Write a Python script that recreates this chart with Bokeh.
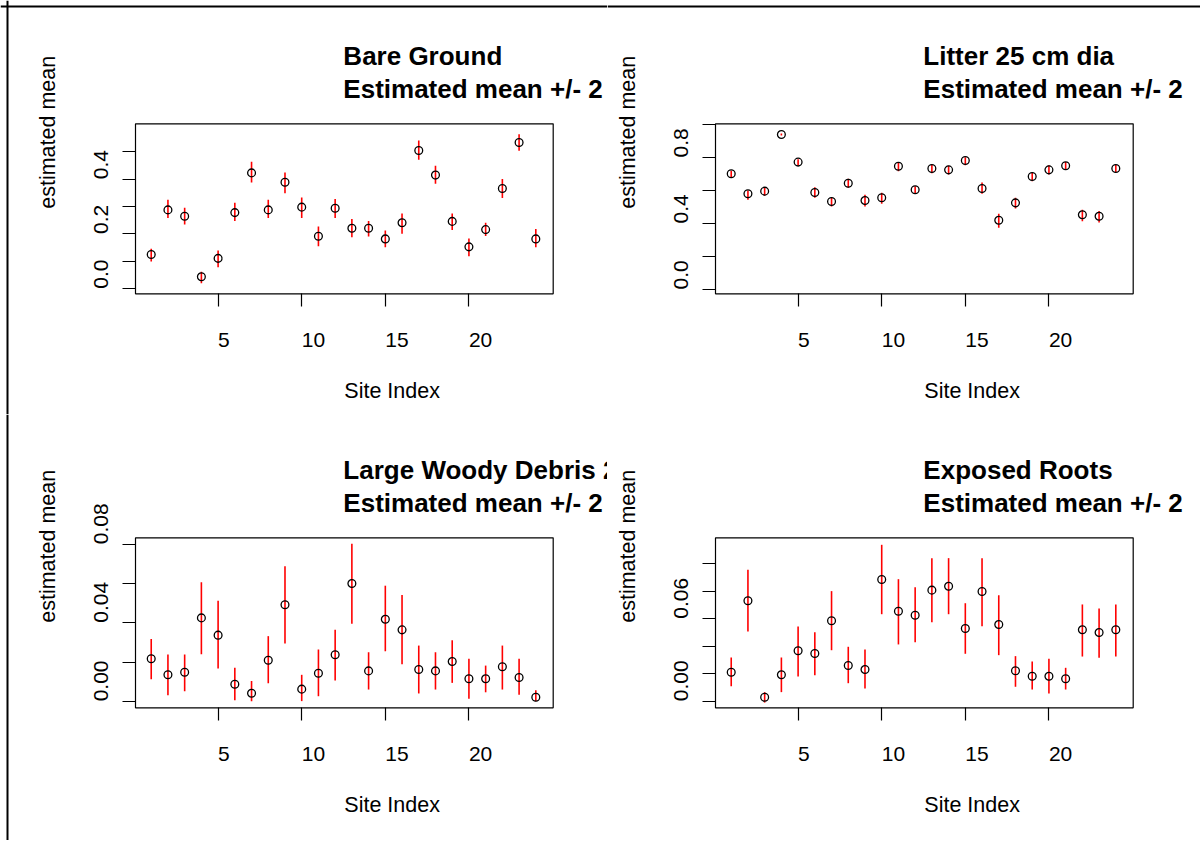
from bokeh.plotting import figure
from bokeh.models import Label, FixedTicker, Range1d, BoxAnnotation, Span
from bokeh.layouts import row, column
from bokeh.embed import file_html
from bokeh.resources import INLINE

# ---------------- data ----------------
site = list(range(1, 25))
x_ticks = [5, 10, 15, 20]

bare_mean = [0.125, 0.288, 0.265, 0.044, 0.111, 0.278, 0.423, 0.288, 0.389, 0.298, 0.192, 0.294,
             0.221, 0.221, 0.182, 0.241, 0.505, 0.415, 0.246, 0.153, 0.216, 0.366, 0.534, 0.182]
bare_lo = [0.100, 0.258, 0.235, 0.020, 0.079, 0.247, 0.388, 0.258, 0.349, 0.258, 0.155, 0.258,
           0.188, 0.191, 0.152, 0.201, 0.471, 0.383, 0.215, 0.119, 0.193, 0.331, 0.504, 0.152]
bare_hi = [0.146, 0.325, 0.296, 0.062, 0.140, 0.314, 0.464, 0.325, 0.424, 0.333, 0.227, 0.328,
           0.255, 0.247, 0.213, 0.275, 0.541, 0.449, 0.275, 0.184, 0.241, 0.401, 0.564, 0.218]

litter_mean = [0.701, 0.580, 0.596, 0.939, 0.772, 0.588, 0.533, 0.644, 0.539, 0.556, 0.747, 0.604,
               0.733, 0.725, 0.782, 0.612, 0.420, 0.525, 0.685, 0.725, 0.750, 0.453, 0.444, 0.733]
litter_lo = [0.681, 0.544, 0.568, 0.933, 0.750, 0.556, 0.503, 0.616, 0.503, 0.519, 0.717, 0.580,
             0.705, 0.697, 0.753, 0.580, 0.374, 0.491, 0.656, 0.697, 0.725, 0.414, 0.406, 0.710]
litter_hi = [0.719, 0.600, 0.616, 0.945, 0.790, 0.620, 0.559, 0.671, 0.574, 0.586, 0.772, 0.626,
             0.758, 0.750, 0.802, 0.648, 0.459, 0.556, 0.711, 0.753, 0.772, 0.483, 0.475, 0.755]

lwd_mean = [0.0217, 0.0135, 0.0148, 0.0425, 0.0337, 0.0087, 0.0041, 0.0209, 0.0492, 0.0062, 0.0143, 0.0237,
            0.0600, 0.0155, 0.0418, 0.0364, 0.0162, 0.0155, 0.0203, 0.0115, 0.0115, 0.0176, 0.0121, 0.0021]
lwd_lo = [0.0113, 0.0031, 0.0051, 0.0240, 0.0167, 0.0006, 0.0001, 0.0092, 0.0295, 0.0001, 0.0026, 0.0106,
          0.0395, 0.0060, 0.0255, 0.0189, 0.0040, 0.0060, 0.0094, 0.0013, 0.0046, 0.0060, 0.0033, 0.0001]
lwd_hi = [0.0318, 0.0238, 0.0238, 0.0607, 0.0512, 0.0171, 0.0104, 0.0332, 0.0688, 0.0135, 0.0264, 0.0364,
          0.0803, 0.0250, 0.0589, 0.0541, 0.0284, 0.0250, 0.0311, 0.0217, 0.0182, 0.0284, 0.0217, 0.0057]

roots_mean = [0.0211, 0.0731, 0.0029, 0.0192, 0.0367, 0.0347, 0.0585, 0.0260, 0.0231, 0.0886, 0.0655, 0.0626,
              0.0808, 0.0837, 0.0529, 0.0798, 0.0558, 0.0221, 0.0182, 0.0182, 0.0163, 0.0520, 0.0500, 0.0520]
roots_lo = [0.0109, 0.0507, -0.0010, 0.0066, 0.0180, 0.0189, 0.0371, 0.0131, 0.0092, 0.0633, 0.0413, 0.0429,
            0.0575, 0.0633, 0.0345, 0.0546, 0.0335, 0.0105, 0.0085, 0.0056, 0.0085, 0.0325, 0.0316, 0.0325]
roots_hi = [0.0318, 0.0956, 0.0066, 0.0318, 0.0544, 0.0502, 0.0801, 0.0396, 0.0376, 0.1138, 0.0888, 0.0830,
            0.1041, 0.1041, 0.0713, 0.1041, 0.0771, 0.0328, 0.0289, 0.0309, 0.0243, 0.0704, 0.0675, 0.0704]

titles = ["Bare Ground", "Litter 25 cm dia", "Large Woody Debris 25 cm dia", "Exposed Roots"]
subtitle = "Estimated mean +/- 2"
y_title = "estimated mean"
x_title = "Site Index"

bare_ticks = [0.0, 0.1, 0.2, 0.3, 0.4, 0.5]
bare_labels = {0.0: "0.0", 0.2: "0.2", 0.4: "0.4"}
litter_ticks = [0.0, 0.2, 0.4, 0.6, 0.8, 1.0]
litter_labels = {0.0: "0.0", 0.4: "0.4", 0.8: "0.8"}
lwd_ticks = [0.0, 0.02, 0.04, 0.06, 0.08]
lwd_labels = {0.0: "0.00", 0.04: "0.04", 0.08: "0.08"}
roots_ticks = [0.0, 0.02, 0.04, 0.06, 0.08, 0.10]
roots_labels = {0.0: "0.00", 0.06: "0.06"}

xlim = (0.06, 25.04)
bare_ylim = (-0.0183, 0.6022)
litter_ylim = (-0.0261, 1.0042)
lwd_ylim = (-0.0033, 0.0833)
roots_ylim = (-0.0048, 0.1189)

# ---------------- layout / style ----------------
FONT = "Liberation Sans"
AX_SIZE = "21px"
LAB_SIZE = "21.5px"
TITLE_SIZE = "26px"
BOX_TOP, BOX_BOTTOM = 123.3, 293.3      # px from canvas top (both rows)
LEFT_BOX = (135.0, 552.7)               # px from canvas left, left column
RIGHT_BOX = (108.0, 525.7)              # right column
COL_W = (607, 593)
ROW_H = (414, 426)
FRAME_TOP_Y = 6.0                       # outer picture frame, px from canvas top
FRAME_LEFT_X = 7.0                      # px from canvas left

# text offsets from the box (px)
XTICK_DY = -53.4 + 7.3
XLAB_DY = -105 + 7.5
YTICK_DX = -27 - 7.3
YLAB_DX = -80 - 7.5
TITLE1_DY = 58.5 + 9.3
TITLE2_DY = 26 + 9.3


def panel(mean, lo, hi, ylim, yticks, ylabels, title, w, h, box_x, border_top, border_left):
    bx0, bx1 = box_x
    sx = (bx1 - bx0) / (xlim[1] - xlim[0])
    sy = (BOX_BOTTOM - BOX_TOP) / (ylim[1] - ylim[0])
    xr = Range1d(xlim[0] - bx0 / sx, xlim[0] + (w - bx0) / sx)
    yr = Range1d(ylim[1] - (h - BOX_TOP) / sy, ylim[1] + BOX_TOP / sy)

    p = figure(width=w, height=h, x_range=xr, y_range=yr, title=None,
               output_backend="svg", toolbar_location=None,
               min_border_left=0, min_border_right=0, min_border_top=0, min_border_bottom=0)
    p.xgrid.visible = False
    p.ygrid.visible = False
    p.outline_line_color = None
    p.background_fill_color = "white"
    p.border_fill_color = "white"

    p.xaxis.ticker = FixedTicker(ticks=x_ticks)
    p.yaxis.ticker = FixedTicker(ticks=yticks)
    p.xaxis.fixed_location = ylim[0]
    p.yaxis.fixed_location = xlim[0]
    for ax in (p.xaxis[0], p.yaxis[0]):
        ax.axis_line_color = None
        ax.major_tick_out = 13
        ax.major_tick_in = 0
        ax.minor_tick_out = 0
        ax.minor_tick_in = 0
        ax.major_tick_line_color = "black"
        ax.major_tick_line_width = 1.2
        ax.minor_tick_line_color = None
        ax.major_label_text_color = None

    p.add_layout(BoxAnnotation(left=xlim[0], right=xlim[1], bottom=ylim[0], top=ylim[1],
                               fill_color=None, fill_alpha=0, line_color="black",
                               line_alpha=1.0, line_width=1.2))

    p.segment(x0=site, y0=lo, x1=site, y1=hi, line_color="#FF0000", line_width=1.6)
    p.scatter(site, mean, marker="circle", size=7.8, fill_color=None,
              line_color="black", line_width=1.3)

    xm = (xlim[0] + xlim[1]) / 2.0
    ym = (ylim[0] + ylim[1]) / 2.0

    # tick labels, drawn starting at the tick as in the reference
    for t in x_ticks:
        p.add_layout(Label(x=t, y=ylim[0], y_offset=XTICK_DY, text=str(t), text_align="left",
                           text_baseline="alphabetic", text_font=FONT, text_font_size=AX_SIZE,
                           text_color="black"))
    for t, s in ylabels.items():
        p.add_layout(Label(x=xlim[0], y=t, x_offset=YTICK_DX, text=s, angle=90, angle_units="deg",
                           text_align="left", text_baseline="alphabetic", text_font=FONT,
                           text_font_size=AX_SIZE, text_color="black"))
    # axis titles
    p.add_layout(Label(x=xm, y=ylim[0], y_offset=XLAB_DY, text=x_title, text_align="left",
                       text_baseline="alphabetic", text_font=FONT, text_font_size=LAB_SIZE,
                       text_color="black"))
    p.add_layout(Label(x=xlim[0], y=ym, x_offset=YLAB_DX, text=y_title, angle=90, angle_units="deg",
                       text_align="left", text_baseline="alphabetic", text_font=FONT,
                       text_font_size=LAB_SIZE, text_color="black"))
    # two-line bold title
    p.add_layout(Label(x=xm, y=ylim[1], y_offset=TITLE1_DY, x_offset=-1.0, text=title,
                       text_align="left", text_baseline="alphabetic", text_font=FONT,
                       text_font_size=TITLE_SIZE, text_font_style="bold", text_color="black"))
    p.add_layout(Label(x=xm, y=ylim[1], y_offset=TITLE2_DY, x_offset=-1.0, text=subtitle,
                       text_align="left", text_baseline="alphabetic", text_font=FONT,
                       text_font_size=TITLE_SIZE, text_font_style="bold", text_color="black"))

    # outer frame of the whole picture (top and left edges only)
    if border_top:
        p.add_layout(Span(location=yr.end - FRAME_TOP_Y / sy, dimension="width",
                          line_color="black", line_width=2))
    if border_left:
        p.add_layout(Span(location=xr.start + FRAME_LEFT_X / sx, dimension="height",
                          line_color="black", line_width=2))
    return p


p1 = panel(bare_mean, bare_lo, bare_hi, bare_ylim, bare_ticks, bare_labels, titles[0],
           COL_W[0], ROW_H[0], LEFT_BOX, True, True)
p2 = panel(litter_mean, litter_lo, litter_hi, litter_ylim, litter_ticks, litter_labels, titles[1],
           COL_W[1], ROW_H[0], RIGHT_BOX, True, False)
p3 = panel(lwd_mean, lwd_lo, lwd_hi, lwd_ylim, lwd_ticks, lwd_labels, titles[2],
           COL_W[0], ROW_H[1], LEFT_BOX, False, True)
p4 = panel(roots_mean, roots_lo, roots_hi, roots_ylim, roots_ticks, roots_labels, titles[3],
           COL_W[1], ROW_H[1], RIGHT_BOX, False, False)

layout = column(row(p1, p2), row(p3, p4))

open("out.html", "w").write(file_html(layout, INLINE))
